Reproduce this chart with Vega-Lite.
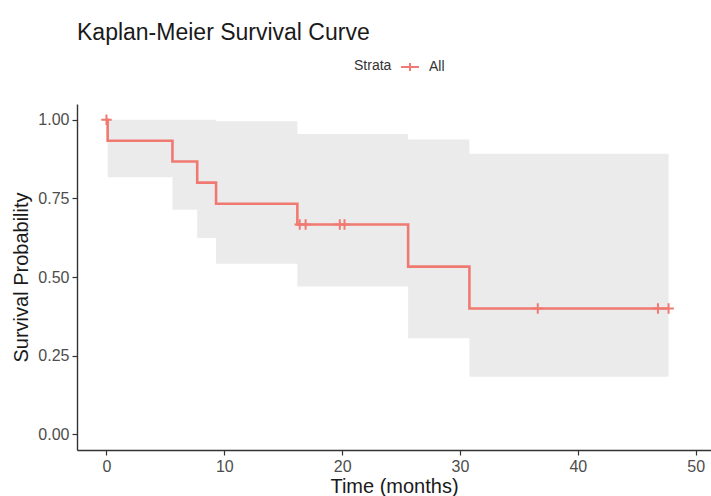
{
  "$schema": "https://vega.github.io/schema/vega-lite/v6.json",
  "width": 634,
  "height": 346,
  "autosize": {"type": "none"},
  "padding": {"left": 77, "top": 104, "right": 0, "bottom": 46},
  "background": "white",
  "title": {
    "text": "Kaplan-Meier Survival Curve",
    "anchor": "start",
    "frame": "group",
    "fontSize": 23,
    "font": "Liberation Sans",
    "fontWeight": "normal",
    "color": "#1a1a1a",
    "offset": 12
  },
  "datasets": {
    "curve": [
      {"time": 0, "surv": 1.0, "lower": 1.0, "upper": 1.0, "strata": "All"},
      {"time": 0.1, "surv": 0.933, "lower": 0.817, "upper": 1.0, "strata": "All"},
      {"time": 5.6, "surv": 0.867, "lower": 0.714, "upper": 1.0, "strata": "All"},
      {"time": 7.7, "surv": 0.8, "lower": 0.624, "upper": 1.0, "strata": "All"},
      {"time": 9.3, "surv": 0.733, "lower": 0.542, "upper": 0.995, "strata": "All"},
      {"time": 16.2, "surv": 0.667, "lower": 0.47, "upper": 0.955, "strata": "All"},
      {"time": 25.6, "surv": 0.533, "lower": 0.305, "upper": 0.937, "strata": "All"},
      {"time": 30.8, "surv": 0.4, "lower": 0.183, "upper": 0.892, "strata": "All"},
      {"time": 47.7, "surv": 0.4, "lower": 0.183, "upper": 0.892, "strata": "All"}
    ],
    "censor": [
      {"time": 0, "surv": 1.0, "strata": "All"},
      {"time": 16.4, "surv": 0.667, "strata": "All"},
      {"time": 16.9, "surv": 0.667, "strata": "All"},
      {"time": 19.8, "surv": 0.667, "strata": "All"},
      {"time": 20.2, "surv": 0.667, "strata": "All"},
      {"time": 36.6, "surv": 0.4, "strata": "All"},
      {"time": 46.8, "surv": 0.4, "strata": "All"},
      {"time": 47.7, "surv": 0.4, "strata": "All"}
    ]
  },
  "encoding": {
    "x": {
      "field": "time",
      "type": "quantitative",
      "scale": {"domain": [-2.5, 51.3], "nice": false, "zero": false},
      "axis": {"title": "Time (months)", "values": [0, 10, 20, 30, 40, 50], "grid": false}
    }
  },
  "layer": [
    {
      "data": {"name": "curve"},
      "mark": {"type": "area", "interpolate": "step-after", "color": "#EBEBEB", "opacity": 1},
      "encoding": {
        "y": {
          "field": "lower",
          "type": "quantitative",
          "scale": {"domain": [-0.05, 1.05], "nice": false, "zero": false},
          "axis": {"title": "Survival Probability", "values": [0, 0.25, 0.5, 0.75, 1], "format": ".2f", "grid": false}
        },
        "y2": {"field": "upper"}
      }
    },
    {
      "data": {"name": "curve"},
      "mark": {"type": "line", "interpolate": "step-after", "strokeWidth": 2.6},
      "encoding": {
        "y": {"field": "surv", "type": "quantitative"},
        "color": {
          "field": "strata",
          "type": "nominal",
          "scale": {"range": ["#F07A72"]},
          "legend": {
            "title": "Strata",
            "orient": "none",
            "legendX": 277,
            "legendY": -47,
            "direction": "horizontal",
            "titleOrient": "left",
            "titleFontSize": 14,
            "titleFontWeight": "normal",
            "titleColor": "#333333",
            "titleFont": "Liberation Sans",
            "titlePadding": 8,
            "labelFontSize": 14,
            "labelColor": "#333333",
            "labelFont": "Liberation Sans",
            "symbolType": "M-1,0H1M0,-0.45V0.45",
            "symbolSize": 320,
            "symbolStrokeWidth": 2,
            "symbolFillColor": "transparent",
            "symbolStrokeColor": "#F07A72",
            "labelOffset": 9
          }
        }
      }
    },
    {
      "data": {"name": "censor"},
      "mark": {"type": "point", "shape": "M-1,0H1M0,-1V1", "filled": false, "size": 110, "strokeWidth": 2, "opacity": 1},
      "encoding": {
        "y": {"field": "surv", "type": "quantitative"},
        "color": {"field": "strata", "type": "nominal"}
      }
    }
  ],
  "config": {
    "view": {"stroke": null},
    "font": "Liberation Sans",
    "axis": {
      "domainColor": "#333333",
      "domainWidth": 1.4,
      "tickColor": "#333333",
      "tickWidth": 1.2,
      "tickSize": 5,
      "labelFont": "Liberation Sans",
      "labelFontSize": 16,
      "labelColor": "#4D4D4D",
      "labelPadding": 3,
      "titleFont": "Liberation Sans",
      "titleFontSize": 20,
      "titleFontWeight": "normal",
      "titleColor": "#1a1a1a"
    },
    "axisX": {"titlePadding": 2},
    "axisY": {"titlePadding": 6}
  }
}
